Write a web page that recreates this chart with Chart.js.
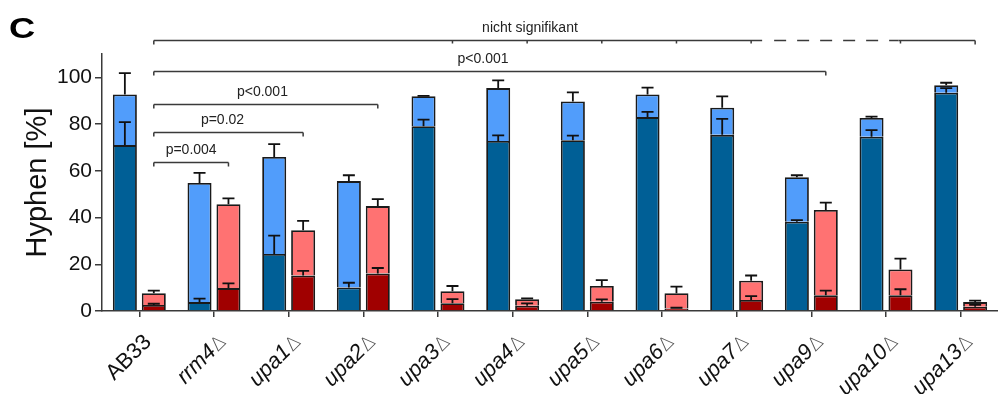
<!DOCTYPE html>
<html>
<head>
<meta charset="utf-8">
<script src="https://cdn.jsdelivr.net/npm/chart.js@4.4.1/dist/chart.umd.min.js"></script>
<style>
  html, body { margin: 0; padding: 0; background: #fff; }
  canvas { display: block; }
</style>
</head>
<body>
<canvas id="chart" width="998" height="394"></canvas>
<script>
const strains = ['AB33', 'rrm4Δ', 'upa1Δ', 'upa2Δ', 'upa3Δ', 'upa4Δ', 'upa5Δ', 'upa6Δ', 'upa7Δ', 'upa9Δ', 'upa10Δ', 'upa13Δ'];
const yTicks = [0, 20, 40, 60, 80, 100];

// blue pair: dark part and full bar height, with their upper error
const blueDark     = [71.0, 3.8, 24.4, 10.1, 79.1, 72.8, 73.1, 83.0, 75.4, 38.2, 74.6, 93.4];
const blueDarkErr  = [9.8, 1.5, 7.9, 2.0, 2.8, 2.4, 2.0, 2.2, 6.8, 0.7, 2.8, 2.0];
const blueTotal    = [92.7, 54.8, 65.9, 55.6, 91.9, 95.4, 89.7, 92.7, 87.0, 57.3, 82.6, 96.6];
const blueTotalErr = [9.1, 4.3, 5.5, 2.5, 0.2, 3.3, 3.9, 2.9, 4.9, 0.8, 0.6, 1.1];

// red pair
const redDark      = [2.6, 9.8, 15.2, 16.1, 3.3, 2.3, 4.0, 1.1, 4.7, 6.7, 6.7, 1.8];
const redDarkErr   = [0.5, 2.0, 2.0, 2.3, 1.8, 1.0, 1.0, 0.3, 1.7, 2.0, 2.6, 0.8];
const redTotal     = [7.6, 45.7, 34.6, 44.9, 8.5, 5.0, 10.7, 7.6, 13.0, 43.2, 17.8, 3.8];
const redTotalErr  = [1.1, 2.5, 4.0, 3.0, 2.2, 0.4, 2.5, 2.8, 2.2, 3.2, 4.6, 0.6];

// significance brackets (from / to = strain index, level in % units)
const brackets = [
    { from: 0, to: 1, level: 63.7, label: 'p=0.004' },
    { from: 0, to: 2, level: 76.5, label: 'p=0.02', at: 0.46 },
    { from: 0, to: 3, level: 88.5, label: 'p<0.001', at: 0.485 },
    { from: 0, to: 9, level: 102.6, label: 'p<0.001', at: 0.49 },
    { from: 0, to: 11, level: 116.2, label: 'nicht signifikant', at: 0.458, marks: [4, 5, 6, 7, 8, 10], dashed: [8, 10] }
];

const FONT = "'Liberation Sans', Arial, sans-serif";
const lineCol = '#3a3a3a';

const overlay = {
    id: 'overlay',
    afterDatasetsDraw(chart) {
        const ctx = chart.ctx;
        const xScale = chart.scales.x;
        const yScale = chart.scales.y;

        // error bars
        const errs = [
            [0, blueDark, blueDarkErr],
            [1, blueTotal, blueTotalErr],
            [2, redDark, redDarkErr],
            [3, redTotal, redTotalErr]
        ];
        ctx.save();
        ctx.strokeStyle = '#111';
        ctx.lineWidth = 1.8;
        errs.forEach(([di, tops, err]) => {
            const meta = chart.getDatasetMeta(di);
            meta.data.forEach((bar, i) => {
                const x = bar.x;
                const y0 = yScale.getPixelForValue(tops[i]);
                const y1 = yScale.getPixelForValue(tops[i] + err[i]);
                ctx.beginPath();
                ctx.moveTo(x, y0);
                ctx.lineTo(x, y1);
                ctx.moveTo(x - 6, y1);
                ctx.lineTo(x + 6, y1);
                ctx.stroke();
            });
        });
        ctx.restore();

        // brackets
        const redMeta = chart.getDatasetMeta(2);
        ctx.save();
        ctx.strokeStyle = lineCol;
        ctx.lineWidth = 1.5;
        ctx.fillStyle = '#222';
        ctx.font = '14px ' + FONT;
        ctx.textAlign = 'center';
        ctx.textBaseline = 'alphabetic';
        brackets.forEach(b => {
            const x0 = redMeta.data[b.from].x;
            const x1 = redMeta.data[b.to].x;
            const y = Math.round(yScale.getPixelForValue(b.level)) + 0.5;
            ctx.setLineDash([]);
            ctx.beginPath();
            if (b.dashed) {
                const xa = redMeta.data[b.dashed[0]].x;
                const xb = redMeta.data[b.dashed[1]].x;
                ctx.moveTo(x0, y); ctx.lineTo(xa + 11, y);
                ctx.moveTo(xb - 2, y); ctx.lineTo(x1, y);
                ctx.stroke();
                ctx.setLineDash([12, 11]);
                ctx.beginPath();
                ctx.moveTo(xa + 23, y); ctx.lineTo(xb - 2, y);
                ctx.stroke();
                ctx.setLineDash([]);
            } else {
                ctx.moveTo(x0, y); ctx.lineTo(x1, y);
                ctx.stroke();
            }
            ctx.beginPath();
            ctx.moveTo(x0, y); ctx.lineTo(x0, y + 4);
            ctx.moveTo(x1, y); ctx.lineTo(x1, y + 4);
            (b.marks || []).forEach(m => {
                const xm = redMeta.data[m].x;
                ctx.moveTo(xm, y); ctx.lineTo(xm, y + 3);
            });
            ctx.stroke();
            const f = b.at !== undefined ? b.at : 0.5;
            ctx.fillText(b.label, x0 + (x1 - x0) * f, y - 9);
        });
        ctx.restore();

        // strain labels: italic name, upright thin delta
        ctx.save();
        ctx.fillStyle = '#111';
        ctx.textAlign = 'right';
        ctx.textBaseline = 'alphabetic';
        strains.forEach((s, i) => {
            const x = xScale.getPixelForTick(i) + 13;
            const y = xScale.top + 32;
            ctx.save();
            ctx.translate(x, y);
            ctx.rotate(-Math.PI / 4);
            let end = 0;
            if (s.endsWith('Δ')) {
                ctx.font = '200 19px "DejaVu Sans", ' + FONT;
                ctx.fillStyle = '#555';
                ctx.fillText('Δ', 0, 0);
                end = -ctx.measureText('Δ').width - 1;
                s = s.slice(0, -1);
            }
            ctx.fillStyle = '#111';
            ctx.font = (i === 0 ? '' : 'italic ') + '22px ' + FONT;
            ctx.fillText(s, end, 0);
            ctx.restore();
        });

        // panel letter
        ctx.fillStyle = '#000';
        ctx.font = 'bold 29px ' + FONT;
        ctx.textAlign = 'left';
        ctx.translate(9, 38);
        ctx.scale(1.25, 1);
        ctx.fillText('C', 0, 0);
        ctx.restore();
    }
};

new Chart(document.getElementById('chart'), {
    type: 'bar',
    data: {
        labels: strains,
        datasets: [
            { label: 'blue dark', data: blueDark, stack: 'b', backgroundColor: '#005f96' },
            { label: 'blue light', data: blueTotal.map((t, i) => t - blueDark[i]), stack: 'b', backgroundColor: '#519dfb' },
            { label: 'red dark', data: redDark, stack: 'r', backgroundColor: '#a00000' },
            { label: 'red light', data: redTotal.map((t, i) => t - redDark[i]), stack: 'r', backgroundColor: '#ff7272' }
        ]
    },
    options: {
        responsive: false,
        animation: false,
        devicePixelRatio: 1,
        layout: { padding: { top: 54, left: 0, right: 0, bottom: 0 } },
        datasets: {
            bar: {
                borderColor: '#1a1a1a',
                borderWidth: 1.8,
                categoryPercentage: 0.775,
                barPercentage: 0.83
            }
        },
        plugins: {
            legend: { display: false },
            tooltip: { enabled: false }
        },
        scales: {
            x: {
                stacked: true,
                afterFit: axis => { axis.height = 83; },
                border: { display: true, color: lineCol, width: 1.5 },
                grid: { drawOnChartArea: false, offset: false, tickLength: 6, color: lineCol, lineWidth: 1.5 },
                ticks: { display: false }
            },
            y: {
                stacked: true,
                min: 0,
                max: 110,
                afterFit: axis => { axis.width = 102; },
                afterBuildTicks: axis => { axis.ticks = yTicks.map(v => ({ value: v })); },
                border: { display: true, color: lineCol, width: 1.5 },
                grid: { drawOnChartArea: false, tickLength: 7, color: lineCol, lineWidth: 1.5 },
                ticks: { color: '#111', padding: 3, font: { family: FONT, size: 21 } },
                title: {
                    display: true,
                    text: 'Hyphen [%]',
                    color: '#111',
                    font: { family: FONT, size: 29 },
                    padding: { top: 21, bottom: 0 }
                }
            }
        }
    },
    plugins: [overlay]
});
</script>
</body>
</html>
